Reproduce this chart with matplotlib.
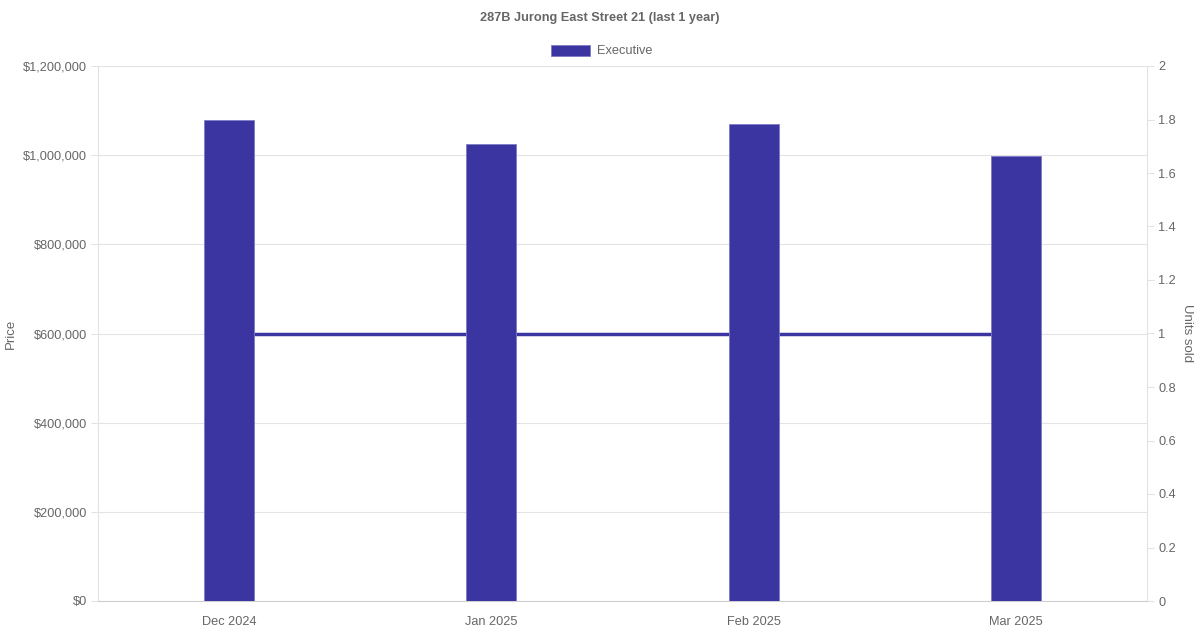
import numpy as np
import matplotlib.pyplot as plt
from matplotlib.ticker import FuncFormatter, MultipleLocator

# Datos
meses = ['Dec 2024', 'Jan 2025', 'Feb 2025', 'Mar 2025']
precio = [1080000, 1025000, 1070000, 998000]
unidades = [1, 1, 1, 1]

color = '#3a35a0'
gris = '#666666'

plt.rcParams['font.family'] = ['Liberation Sans', 'DejaVu Sans']

fig = plt.figure(figsize=(12, 6.3), dpi=100)
ax = fig.add_axes([98/1200, 1 - 601/630, (1147-98)/1200, (601-66)/630])
ax2 = ax.twinx()

x = np.arange(len(meses))

# Barras (precio) encima de la línea
ax.bar(x, precio, width=0.19, color=color, edgecolor='#7f7bc4', linewidth=0.6, zorder=3)
ax.set_ylim(0, 1200000)
ax.set_xlim(-0.5, len(meses) - 0.5)
ax.yaxis.set_major_locator(MultipleLocator(200000))
ax.yaxis.set_major_formatter(FuncFormatter(lambda v, p: f'${v:,.0f}'))
ax.set_xticks(x)
ax.set_xticklabels(meses)
ax.set_ylabel('Price', color=gris, fontsize=9.5)
ax.yaxis.set_label_coords(-0.077, 0.5)
ax.grid(axis='y', color='#e3e3e3', linewidth=0.8, zorder=0)
ax.tick_params(axis='y', length=5, color='#e3e3e3', labelcolor=gris, labelsize=9.2, pad=3)
ax.tick_params(axis='x', length=0, labelcolor=gris, labelsize=9.2, pad=11)

# Eje derecho (unidades vendidas)
ax2.set_ylim(0, 2)
ax2.yaxis.set_major_locator(MultipleLocator(0.2))
ax2.yaxis.set_major_formatter(FuncFormatter(lambda v, p: f'{v:g}'))
ax2.set_ylabel('Units sold', color=gris, fontsize=9.5, rotation=270, va='center')
ax2.yaxis.set_label_coords(1.038, 0.5)
ax2.tick_params(axis='y', length=5, color='#e3e3e3', labelcolor=gris, labelsize=9.2, pad=3)

# La línea se dibuja en ax con la escala de ax2, entre la grilla y las barras
ax.plot(x, unidades, color=color, linewidth=2.5, zorder=2, transform=ax2.transData)

ax.set_zorder(ax2.get_zorder() + 1)
ax.patch.set_visible(False)

for a in (ax, ax2):
    for s in a.spines.values():
        s.set_visible(False)
ax.spines['left'].set_visible(True)
ax.spines['left'].set_color('#e3e3e3')
ax.spines['bottom'].set_visible(True)
ax.spines['bottom'].set_color('#cfcfcf')
ax2.spines['right'].set_visible(True)
ax2.spines['right'].set_color('#e3e3e3')

fig.text(0.5, 1 - 18/630, '287B Jurong East Street 21 (last 1 year)', ha='center', va='center',
         fontsize=9.2, fontweight='bold', color=gris)

# Leyenda
fig.patches.append(plt.Rectangle((551/1200, 1 - 56/630), 39/1200, 11/630, transform=fig.transFigure,
                                 facecolor=color, edgecolor='#7f7bc4', linewidth=0.6))
fig.text(597/1200, 1 - 51.5/630, 'Executive', ha='left', va='center', fontsize=9.2, color=gris)

fig.savefig('out.png', dpi=100)
